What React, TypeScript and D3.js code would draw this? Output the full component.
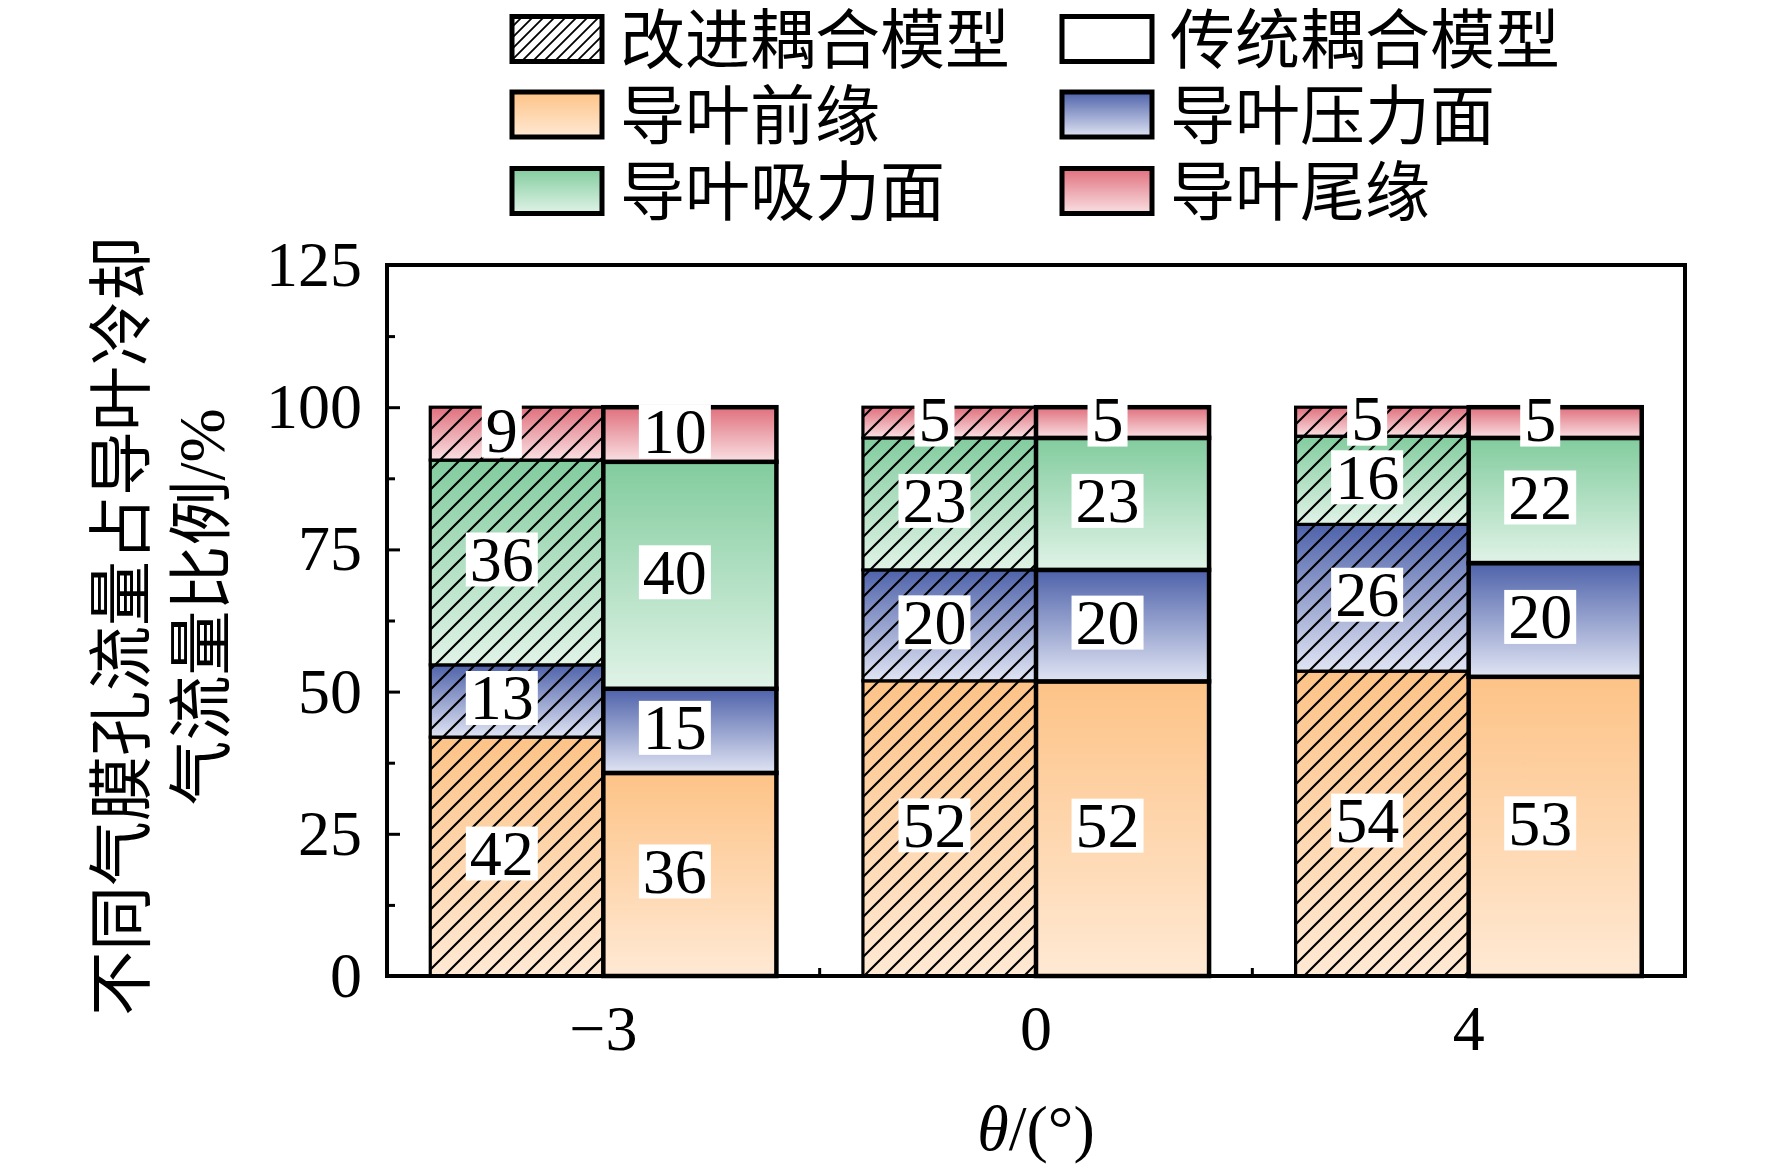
import React, { useEffect, useRef } from 'react'
import * as d3 from 'd3'

const categories = ['−3', '0', '4']
const models = ['改进耦合模型', '传统耦合模型']
const parts = ['导叶前缘', '导叶压力面', '导叶吸力面', '导叶尾缘']

// shares per category, stack order: leading edge, pressure side, suction side, trailing edge
const improvedShares = [
  [42.0, 12.7, 36.0, 9.3],
  [51.9, 19.5, 23.2, 5.4],
  [53.6, 25.8, 15.5, 5.1],
]
const traditionalShares = [
  [35.7, 14.8, 39.9, 9.6],
  [51.8, 19.6, 23.2, 5.4],
  [52.6, 20.0, 22.0, 5.4],
]
const improvedLabels = [
  ['42', '13', '36', '9'],
  ['52', '20', '23', '5'],
  ['54', '26', '16', '5'],
]
const traditionalLabels = [
  ['36', '15', '40', '10'],
  ['52', '20', '23', '5'],
  ['53', '20', '22', '5'],
]

const yTicks = [0, 25, 50, 75, 100, 125]
const yMinorTicks = [12.5, 37.5, 62.5, 87.5, 112.5]

// gradient top / bottom colour for each part
const partColors = [
  ['#fdc387', '#ffe9d4'],
  ['#4e62aa', '#e0e4f3'],
  ['#82cc9e', '#e0f3e7'],
  ['#e0707d', '#f9e0e3'],
]

const SERIF = "'Liberation Serif', 'Times New Roman', 'Noto Sans CJK SC', serif"
const CJK = "'Liberation Serif', 'Noto Sans CJK SC', sans-serif"

export default function App() {
  const svgRef = useRef<SVGSVGElement>(null)

  useEffect(() => {
    if (!svgRef.current) return
    const svg = d3.select(svgRef.current)
    svg.selectAll('*').remove()

    const plot = { left: 387, right: 1685, top: 265, bottom: 976 }

    const x = d3.scaleBand().domain(categories).range([plot.left, plot.right])
    const xModel = d3.scaleBand().domain(models).range([0, x.bandwidth()]).paddingOuter(0.25)
    const y = d3.scaleLinear().domain([0, 125]).range([plot.bottom, plot.top])

    const defs = svg.append('defs')
    partColors.forEach(([top, bottom], i) => {
      const g = defs.append('linearGradient')
        .attr('id', `part-grad-${i}`)
        .attr('x1', 0).attr('y1', 0).attr('x2', 0).attr('y2', 1)
      g.append('stop').attr('offset', '0%').attr('stop-color', top)
      g.append('stop').attr('offset', '100%').attr('stop-color', bottom)
    })

    const hatch = (id: string, s: number, w: number) => {
      const p = defs.append('pattern')
        .attr('id', id)
        .attr('patternUnits', 'userSpaceOnUse')
        .attr('width', s)
        .attr('height', s)
      p.append('path')
        .attr('d', `M${-s / 4},${s / 4} L${s / 4},${-s / 4} M0,${s} L${s},0 M${s * 0.75},${s * 1.25} L${s * 1.25},${s * 0.75}`)
        .attr('stroke', '#000')
        .attr('stroke-width', w)
    }
    hatch('hatch-bar', 20, 2.2)
    hatch('hatch-legend', 11, 1.8)

    const stacks = [improvedShares, traditionalShares]
    const labels = [improvedLabels, traditionalLabels]

    // bars
    const barsG = svg.append('g')
    models.forEach((m, mi) => {
      categories.forEach((c, ci) => {
        const bx = (x(c) ?? 0) + (xModel(m) ?? 0)
        const bw = xModel.bandwidth()
        let acc = 0
        stacks[mi][ci].forEach((v, pi) => {
          const y0 = y(acc)
          const y1 = y(acc + v)
          acc += v
          barsG.append('rect')
            .attr('x', bx).attr('y', y1).attr('width', bw).attr('height', y0 - y1)
            .attr('fill', `url(#part-grad-${pi})`)
          if (mi === 0) {
            barsG.append('rect')
              .attr('x', bx).attr('y', y1).attr('width', bw).attr('height', y0 - y1)
              .attr('fill', 'url(#hatch-bar)')
          }
          barsG.append('rect')
            .attr('x', bx).attr('y', y1).attr('width', bw).attr('height', y0 - y1)
            .attr('fill', 'none')
            .attr('stroke', '#000')
            .attr('stroke-width', mi === 0 ? 3.2 : 4.5)
        })
      })
    })

    // value labels on white boxes
    const labelG = svg.append('g')
    models.forEach((m, mi) => {
      categories.forEach((c, ci) => {
        const bx = (x(c) ?? 0) + (xModel(m) ?? 0)
        const bw = xModel.bandwidth()
        let acc = 0
        stacks[mi][ci].forEach((v, pi) => {
          const cy = y(acc + v / 2) - 3
          acc += v
          const cx = bx + bw / 2 - 15
          const t = labels[mi][ci][pi]
          const w = t.length * 32 + 8
          labelG.append('rect')
            .attr('x', cx - w / 2).attr('y', cy - 27).attr('width', w).attr('height', 54)
            .attr('fill', '#fff')
          labelG.append('text')
            .attr('x', cx).attr('y', cy + 21.5)
            .attr('text-anchor', 'middle')
            .attr('font-family', SERIF)
            .attr('font-size', 64)
            .attr('fill', '#000')
            .text(t)
        })
      })
    })

    // axes
    const yg = svg.append('g')
      .attr('transform', `translate(${plot.left},0)`)
      .call(d3.axisLeft(y).tickValues(yTicks).tickSizeInner(-13).tickSizeOuter(0).tickPadding(25))
      .attr('font-family', SERIF)
      .attr('font-size', 64)
    yg.select('.domain').remove()
    yg.selectAll('line').attr('stroke', '#000').attr('stroke-width', 3)
    yg.selectAll('text').attr('fill', '#000')

    const ygMinor = svg.append('g')
      .attr('transform', `translate(${plot.left},0)`)
      .call(d3.axisLeft(y).tickValues(yMinorTicks).tickSizeInner(-8).tickSizeOuter(0).tickFormat(() => ''))
    ygMinor.select('.domain').remove()
    ygMinor.selectAll('line').attr('stroke', '#000').attr('stroke-width', 3)

    const xg = svg.append('g')
      .attr('transform', `translate(0,${plot.bottom})`)
      .call(d3.axisBottom(x).tickSizeInner(-13).tickSizeOuter(0).tickPadding(29))
      .attr('font-family', SERIF)
      .attr('font-size', 64)
    xg.select('.domain').remove()
    xg.selectAll('line').attr('stroke', '#000').attr('stroke-width', 3)
    xg.selectAll('text').attr('fill', '#000')

    // minor ticks between categories
    categories.slice(1).forEach((c) => {
      const px = x(c) ?? 0
      svg.append('line')
        .attr('x1', px).attr('x2', px)
        .attr('y1', plot.bottom).attr('y2', plot.bottom - 8)
        .attr('stroke', '#000').attr('stroke-width', 3)
    })

    // frame
    svg.append('rect')
      .attr('x', plot.left).attr('y', plot.top)
      .attr('width', plot.right - plot.left).attr('height', plot.bottom - plot.top)
      .attr('fill', 'none')
      .attr('stroke', '#000')
      .attr('stroke-width', 4)

    // legend
    const legendItems = [
      { label: models[0], fill: '#fff', hatch: true },
      { label: models[1], fill: '#fff', hatch: false },
      ...parts.map((p, i) => ({ label: p, fill: `url(#part-grad-${i})`, hatch: false })),
    ]
    const colX = [512, 1062]
    const rowY = [39, 114.5, 191]
    const legendG = svg.append('g')
    legendItems.forEach((item, i) => {
      const lx = colX[i % 2]
      const ly = rowY[Math.floor(i / 2)]
      legendG.append('rect')
        .attr('x', lx).attr('y', ly - 22.5).attr('width', 90).attr('height', 45)
        .attr('fill', item.fill)
      if (item.hatch) {
        legendG.append('rect')
          .attr('x', lx).attr('y', ly - 22.5).attr('width', 90).attr('height', 45)
          .attr('fill', 'url(#hatch-legend)')
      }
      legendG.append('rect')
        .attr('x', lx).attr('y', ly - 22.5).attr('width', 90).attr('height', 45)
        .attr('fill', 'none')
        .attr('stroke', '#000')
        .attr('stroke-width', 5)
      legendG.append('text')
        .attr('x', lx + 108).attr('y', ly + 24)
        .attr('font-family', CJK)
        .attr('font-size', 65)
        .attr('fill', '#000')
        .text(item.label)
    })

    // axis titles
    svg.append('text')
      .attr('transform', 'translate(144,626) rotate(-90)')
      .attr('text-anchor', 'middle')
      .attr('font-family', CJK)
      .attr('font-size', 65)
      .attr('fill', '#000')
      .text('不同气膜孔流量占导叶冷却')
    svg.append('text')
      .attr('transform', 'translate(224,607) rotate(-90)')
      .attr('text-anchor', 'middle')
      .attr('font-family', CJK)
      .attr('font-size', 65)
      .attr('fill', '#000')
      .text('气流量比例/%')

    const xt = svg.append('text')
      .attr('x', (plot.left + plot.right) / 2)
      .attr('y', 1150)
      .attr('text-anchor', 'middle')
      .attr('font-family', SERIF)
      .attr('font-size', 64)
      .attr('fill', '#000')
    xt.append('tspan').attr('font-style', 'italic').text('θ')
    xt.append('tspan').text('/(°)')
  }, [])

  return (
    <svg
      ref={svgRef}
      width={1772}
      height={1170}
      style={{ position: 'absolute', left: 0, top: 0, background: '#fff' }}
    />
  )
}
